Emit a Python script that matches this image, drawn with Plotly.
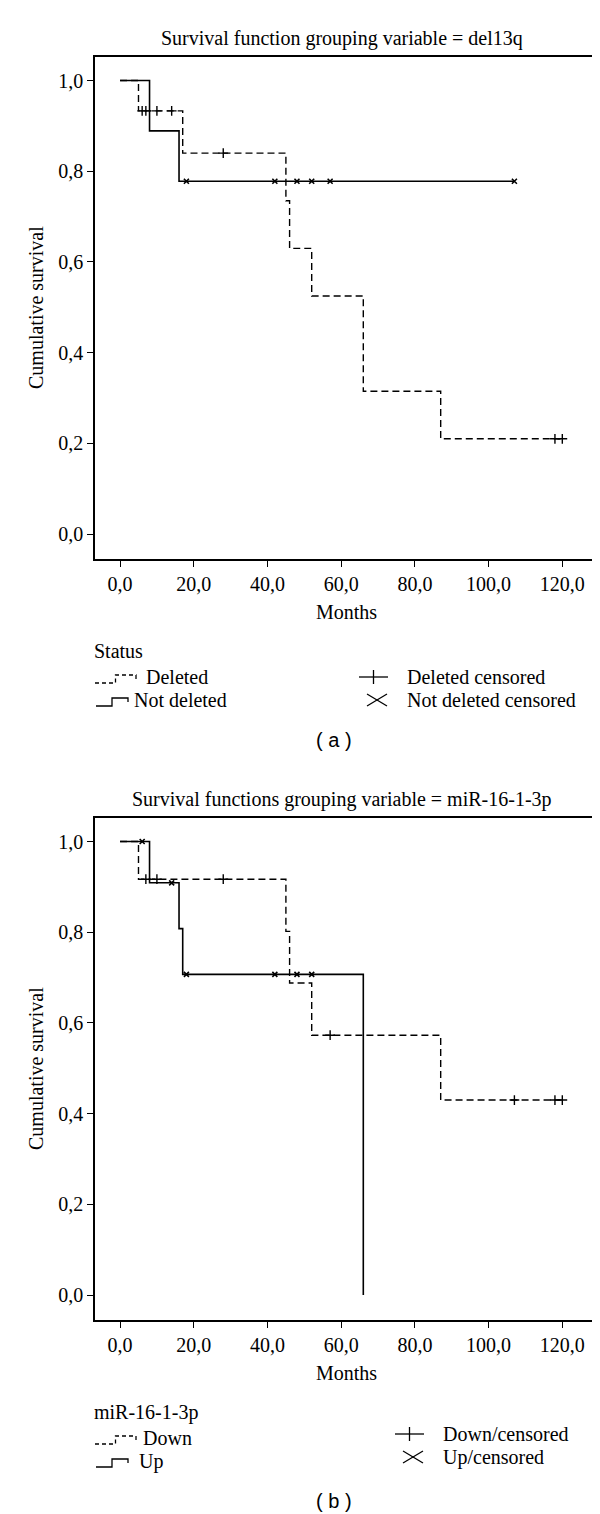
import plotly.graph_objects as go

# ---- panel (a): grouping variable del13q ----
a_del_t = [0, 5, 17, 45, 46, 52, 66, 87, 120]
a_del_s = [1.0, 0.933, 0.84, 0.735, 0.63, 0.525, 0.315, 0.21, 0.21]
a_del_cens_t = [6, 7, 10, 14, 28, 118, 120]
a_del_cens_s = [0.933, 0.933, 0.933, 0.933, 0.84, 0.21, 0.21]

a_not_t = [0, 8, 16, 107]
a_not_s = [1.0, 0.889, 0.778, 0.778]
a_not_cens_t = [18, 42, 48, 52, 57, 107]
a_not_cens_s = [0.778, 0.778, 0.778, 0.778, 0.778, 0.778]

# ---- panel (b): grouping variable miR-16-1-3p ----
b_down_t = [0, 5, 45, 46, 52, 87, 120]
b_down_s = [1.0, 0.917, 0.802, 0.688, 0.573, 0.43, 0.43]
b_down_cens_t = [7, 10, 28, 57, 107, 118, 120]
b_down_cens_s = [0.917, 0.917, 0.917, 0.573, 0.43, 0.43, 0.43]

b_up_t = [0, 8, 16, 17, 66]
b_up_s = [1.0, 0.909, 0.808, 0.707, 0.0]
b_up_cens_t = [6, 14, 18, 42, 48, 52]
b_up_cens_s = [1.0, 0.909, 0.707, 0.707, 0.707, 0.707]

titles = ["Survival function grouping variable = del13q",
          "Survival functions grouping variable = miR-16-1-3p"]
legend_titles = ["Status", "miR-16-1-3p"]
legend_lines = [["Deleted", "Not deleted"], ["Down", "Up"]]
legend_cens = [["Deleted censored", "Not deleted censored"],
               ["Down/censored", "Up/censored"]]
panel_tags = ["( a )", "( b )"]

W, H = 600, 1514
OFF = 761  # vertical shift of panel (b), px
SERIF = "Liberation Serif"
FS = 20


def px(x):
    return x / W


def py(y):
    return 1 - y / H


fig = go.Figure()

dash = "7px,4px"
panels = [
    (a_del_t, a_del_s, a_del_cens_t, a_del_cens_s,
     a_not_t, a_not_s, a_not_cens_t, a_not_cens_s),
    (b_down_t, b_down_s, b_down_cens_t, b_down_cens_s,
     b_up_t, b_up_s, b_up_cens_t, b_up_cens_s),
]
for i, (dt, ds, dct, dcs, st, ss, sct, scs) in enumerate(panels):
    xa = "x" if i == 0 else "x2"
    ya = "y" if i == 0 else "y2"
    fig.add_trace(go.Scatter(x=dt, y=ds, mode="lines", xaxis=xa, yaxis=ya,
                             line=dict(shape="hv", color="black", width=1.4, dash=dash)))
    fig.add_trace(go.Scatter(x=st, y=ss, mode="lines", xaxis=xa, yaxis=ya,
                             line=dict(shape="hv", color="black", width=1.6)))
    fig.add_trace(go.Scatter(x=dct, y=dcs, mode="markers", xaxis=xa, yaxis=ya,
                             marker=dict(symbol="cross-thin", size=7,
                                         line=dict(color="black", width=1.4))))
    fig.add_trace(go.Scatter(x=sct, y=scs, mode="markers", xaxis=xa, yaxis=ya,
                             marker=dict(symbol="x-thin", size=5,
                                         line=dict(color="black", width=1.6))))

axis_common = dict(showline=True, mirror=True, linecolor="black", linewidth=1.5,
                   ticks="outside", ticklen=6, tickwidth=1, tickcolor="black",
                   showgrid=False, zeroline=False, tickformat=".1f",
                   tickfont=dict(family=SERIF, size=FS, color="black"))

xdom = [px(87), px(586)]
fig.update_layout(
    width=W, height=H,
    margin=dict(l=0, r=0, t=0, b=0),
    paper_bgcolor="white", plot_bgcolor="white",
    showlegend=False,
    separators=",.",
    xaxis=dict(domain=xdom, range=[-6.8, 128.6], tick0=0, dtick=20, anchor="y", **axis_common),
    yaxis=dict(domain=[py(551), py(48.5)], range=[-0.055, 1.053], tick0=0, dtick=0.2,
               anchor="x", **axis_common),
    xaxis2=dict(domain=xdom, range=[-6.8, 128.6], tick0=0, dtick=20, anchor="y2", **axis_common),
    yaxis2=dict(domain=[py(551 + OFF), py(48.5 + OFF)], range=[-0.055, 1.053], tick0=0,
                dtick=0.2, anchor="x2", **axis_common),
)

ann = []
shapes = []


def text(x, y, s, size=FS, anchor="left", family=SERIF, angle=0):
    ann.append(dict(x=px(x), y=py(y), xref="paper", yref="paper", text=s,
                    showarrow=False, xanchor=anchor, yanchor="middle", textangle=angle,
                    font=dict(family=family, size=size, color="black")))


def step_glyph(x0, x1, yb, dashed):
    # small SPSS-style step symbol: low run, step up, top run, short drop
    yt = yb - 8
    xm = x0 + (x1 - x0) * 0.5
    pts = [(x0, yb), (xm, yb), (xm, yt), (x1, yt), (x1, yt + 4)]
    path = "M " + " L ".join(f"{px(a):.5f},{py(b):.5f}" for a, b in pts)
    shapes.append(dict(type="path", path=path, xref="paper", yref="paper",
                       line=dict(color="black", width=1.3, dash="4px,3px" if dashed else "solid")))


def plus_glyph(x0, x1, yc):
    xm = (x0 + x1) / 2
    for (a, b, c, d) in [(x0, yc, x1, yc), (xm, yc - 7, xm, yc + 7)]:
        shapes.append(dict(type="line", x0=px(a), y0=py(b), x1=px(c), y1=py(d),
                           xref="paper", yref="paper", line=dict(color="black", width=1.3)))


def cross_glyph(x0, x1, yc):
    for (a, b, c, d) in [(x0, yc - 6, x1, yc + 6), (x0, yc + 6, x1, yc - 6)]:
        shapes.append(dict(type="line", x0=px(a), y0=py(b), x1=px(c), y1=py(d),
                           xref="paper", yref="paper", line=dict(color="black", width=1.3)))


for i in range(2):
    o = i * OFF
    text(334, 30 + o, titles[i], anchor="center")
    text(28, 300 + o, "Cumulative survival", anchor="center", angle=-90)
    text(338, 604 + o, "Months", anchor="center")
    text(84, 643 + o, legend_titles[i])
    step_glyph(87, 128, 675 + o, True)
    text(136 if i == 0 else 133, 669 + o, legend_lines[i][0])
    step_glyph(88, 120, 698 + o, False)
    text(124 if i == 0 else 129, 692 + o, legend_lines[i][1])
    cx = 397 if i == 0 else 433
    dy = 0 if i == 0 else -4
    plus_glyph(cx - 46, cx - 17, 669 + o + dy)
    text(cx, 669 + o + dy, legend_cens[i][0])
    cross_glyph(cx - 38, cx - 18, 692 + o + dy)
    text(cx, 692 + o + dy, legend_cens[i][1])
    text(326, 732 + o, panel_tags[i], anchor="center", family="Liberation Sans", size=20)

fig.update_layout(annotations=ann, shapes=shapes)
fig.write_html("out.html")
